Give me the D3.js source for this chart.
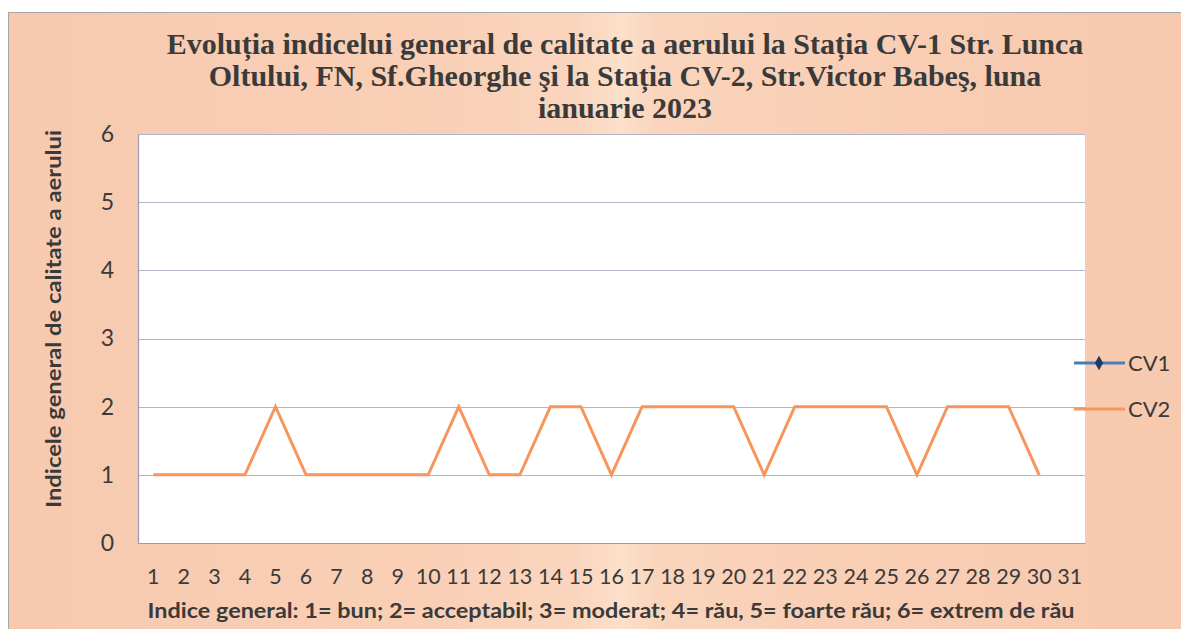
<!DOCTYPE html>
<html>
<head>
<meta charset="utf-8">
<script src="https://cdn.jsdelivr.net/npm/d3@7"></script>
<style>
  body { margin: 0; background: #fff; }
  svg text { fill: #3a3a3a; }
</style>
</head>
<body>
<div id="chart"></div>
<script>
// data
var days = d3.range(1, 32).map(String);
var cv1 = [];  // no values reported for CV1 this month
var cv2 = [1, 1, 1, 1, 2, 1, 1, 1, 1, 1, 2, 1, 1, 2, 2, 1, 2, 2, 2, 2, 1, 2, 2, 2, 2, 1, 2, 2, 2, 1, null];
var yTicks = [0, 1, 2, 3, 4, 5, 6];
var titleLines = [
  "Evoluția indicelui general de calitate a aerului la Stația CV-1 Str. Lunca",
  "Oltului, FN, Sf.Gheorghe şi la Stația CV-2, Str.Victor Babeş, luna",
  "ianuarie 2023"
];
var yTitle = "Indicele general  de calitate a aerului";
var xTitle = "Indice general: 1= bun; 2= acceptabil; 3= moderat; 4= rău, 5= foarte rău; 6= extrem de rău";

var fullWidth = 1181, fullHeight = 629;
var margin = {top: 134, right: 96, bottom: 86, left: 138},
    width = fullWidth - margin.left - margin.right,
    height = fullHeight - margin.top - margin.bottom;

var sansFont = "Lato, 'Open Sans', sans-serif";

var svg = d3.select("#chart").append("svg")
    .attr("width", fullWidth)
    .attr("height", fullHeight);

// background gradient of the chart frame
var defs = svg.append("defs");
var grad = defs.append("linearGradient").attr("id", "bg").attr("x1", 0).attr("x2", 1).attr("y1", 0).attr("y2", 0);
[[0, "#f7caaf"], [0.35, "#f9cfb6"], [0.48, "#fad5bd"], [0.52, "#fce0ca"], [0.55, "#fad4bc"], [0.7, "#f9cfb6"], [1, "#f7c9ae"]]
  .forEach(function(s) { grad.append("stop").attr("offset", s[0]).attr("stop-color", s[1]); });

svg.append("rect")
    .attr("x", 8.5).attr("y", 12.5)
    .attr("width", fullWidth).attr("height", fullHeight)
    .attr("fill", "url(#bg)")
    .attr("stroke", "#a6a6a6");

// title
svg.append("text")
    .attr("text-anchor", "middle")
    .style("font-family", "'Liberation Serif', 'Times New Roman', serif")
    .style("font-weight", "bold")
    .style("font-size", "30px")
    .selectAll("tspan")
    .data(titleLines)
    .enter().append("tspan")
    .attr("x", 625)
    .attr("y", function(d, i) { return 54 + i * 32; })
    .text(function(d) { return d; });

var g = svg.append("g")
    .attr("transform", "translate(" + margin.left + "," + margin.top + ")");

g.append("rect")
    .attr("width", width).attr("height", height)
    .attr("fill", "#fff");

var xScale = d3.scaleBand().domain(days).range([0, width]);
var yScale = d3.scaleLinear().domain([0, 6]).range([height, 0]);

// gridlines
g.append("g")
    .selectAll("line")
    .data(yTicks.filter(function(d) { return d > 0; }))
    .enter().append("line")
    .attr("x1", 0).attr("x2", width)
    .attr("y1", function(d) { return Math.round(yScale(d)) + 0.5; })
    .attr("y2", function(d) { return Math.round(yScale(d)) + 0.5; })
    .attr("stroke", "#b4b7c9")
    .attr("stroke-width", 1.2);

// axes
var yAxis = d3.axisLeft(yScale).tickValues(yTicks).tickFormat(d3.format("d")).tickSize(0).tickPadding(24);
var xAxis = d3.axisBottom(xScale).tickSize(0).tickPadding(26);

var yG = g.append("g").call(yAxis);
yG.select(".domain").attr("stroke", "#9a9cae").attr("stroke-width", 1.2);
yG.selectAll("text")
    .style("font-family", sansFont)
    .style("font-size", "23px")
    .attr("fill", "#3a3a3a");

var xG = g.append("g").attr("transform", "translate(0," + height + ")").call(xAxis);
xG.select(".domain").attr("stroke", "#9a9cae").attr("stroke-width", 1.2);
xG.selectAll("text")
    .style("font-family", sansFont)
    .style("font-size", "21.5px")
    .attr("fill", "#3a3a3a");

// lines
var line = d3.line()
    .defined(function(d) { return d != null; })
    .x(function(d, i) { return xScale(days[i]) + xScale.bandwidth() / 2; })
    .y(function(d) { return yScale(d); });

g.append("path")
    .datum(cv2)
    .attr("fill", "none")
    .attr("stroke", "#f7955d")
    .attr("stroke-width", 3)
    .attr("stroke-linejoin", "miter")
    .attr("d", line);

g.append("path")
    .datum(cv1)
    .attr("fill", "none")
    .attr("stroke", "#4a7ebb")
    .attr("stroke-width", 3)
    .attr("d", line);

// axis titles
svg.append("text")
    .attr("transform", "translate(61,319) rotate(-90)")
    .attr("text-anchor", "middle")
    .attr("textLength", 378)
    .attr("lengthAdjust", "spacingAndGlyphs")
    .style("font-family", sansFont)
    .style("font-weight", "bold")
    .style("font-size", "20px")
    .text(yTitle);

svg.append("text")
    .attr("x", 611).attr("y", 618)
    .attr("text-anchor", "middle")
    .attr("textLength", 927)
    .attr("lengthAdjust", "spacingAndGlyphs")
    .style("font-family", sansFont)
    .style("font-weight", "bold")
    .style("font-size", "20px")
    .text(xTitle);

// legend
var legend = svg.append("g").attr("transform", "translate(1074,0)");
var legendItems = [
  {name: "CV1", color: "#4a7ebb", y: 363, marker: true},
  {name: "CV2", color: "#f7955d", y: 409, marker: false}
];
var li = legend.selectAll("g").data(legendItems).enter().append("g")
    .attr("transform", function(d) { return "translate(0," + d.y + ")"; });
li.append("line")
    .attr("x1", 0).attr("x2", 51)
    .attr("stroke", function(d) { return d.color; })
    .attr("stroke-width", 3);
li.filter(function(d) { return d.marker; }).append("path")
    .attr("transform", "translate(25,0)")
    .attr("d", d3.symbol().type(d3.symbolDiamond).size(60))
    .attr("fill", "#1f3b66");
li.append("text")
    .attr("x", 54).attr("dy", "0.35em")
    .style("font-family", sansFont)
    .style("font-size", "22px")
    .text(function(d) { return d.name; });
</script>
</body>
</html>
